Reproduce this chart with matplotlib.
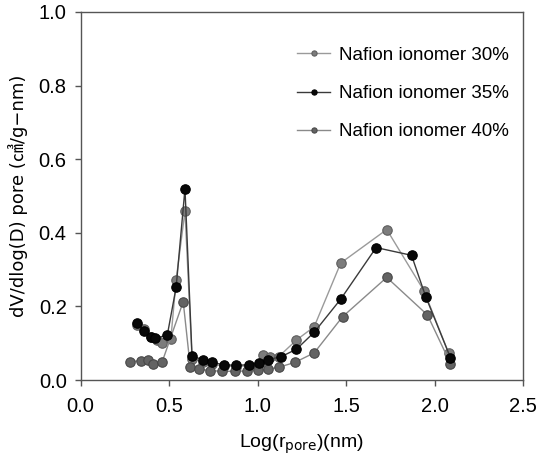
import matplotlib
matplotlib.use("Agg")
import matplotlib.pyplot as plt

# Data (log pore radius vs dV/dlog(D))
x30 = [0.32, 0.36, 0.40, 0.43, 0.46, 0.51, 0.54, 0.59, 0.63, 0.69, 0.74, 0.81, 0.88, 0.95, 1.01, 1.03, 1.07, 1.12, 1.22, 1.32, 1.47, 1.73, 1.94, 2.08]
y30 = [0.150, 0.140, 0.118, 0.108, 0.100, 0.111, 0.272, 0.459, 0.058, 0.050, 0.043, 0.038, 0.037, 0.039, 0.045, 0.068, 0.062, 0.064, 0.109, 0.145, 0.318, 0.409, 0.243, 0.073]

x35 = [0.32, 0.36, 0.40, 0.42, 0.49, 0.54, 0.59, 0.63, 0.69, 0.74, 0.81, 0.88, 0.95, 1.01, 1.06, 1.13, 1.22, 1.32, 1.47, 1.67, 1.87, 1.95, 2.09]
y35 = [0.154, 0.134, 0.118, 0.114, 0.122, 0.252, 0.520, 0.065, 0.056, 0.048, 0.042, 0.040, 0.042, 0.047, 0.056, 0.063, 0.084, 0.130, 0.220, 0.360, 0.339, 0.227, 0.061]

x40 = [0.28, 0.34, 0.38, 0.41, 0.46, 0.58, 0.62, 0.67, 0.73, 0.80, 0.87, 0.94, 1.00, 1.06, 1.12, 1.21, 1.32, 1.48, 1.73, 1.96, 2.09]
y40 = [0.050, 0.053, 0.056, 0.044, 0.048, 0.213, 0.035, 0.030, 0.026, 0.024, 0.024, 0.025, 0.027, 0.030, 0.035, 0.048, 0.074, 0.172, 0.279, 0.177, 0.045]

labels = ["Nafion ionomer 30%", "Nafion ionomer 35%", "Nafion ionomer 40%"]
xticks = [0.0, 0.5, 1.0, 1.5, 2.0, 2.5]
yticks = [0.0, 0.2, 0.4, 0.6, 0.8, 1.0]

plt.rcParams['font.family'] = ['Liberation Sans', 'DejaVu Sans']

fig = plt.figure(figsize=(5.37, 4.58), dpi=100)
ax = fig.add_axes([0.150, 0.170, 0.824, 0.804])

ms = 6.8
l30, = ax.plot(x30, y30, '-o', color='#9a9a9a', lw=1.0, ms=ms,
               mfc='#7c7c7c', mec='#5e5e5e', mew=0.8, label=labels[0], zorder=2)
l40, = ax.plot(x40, y40, '-o', color='#8a8a8a', lw=1.0, ms=ms,
               mfc='#636363', mec='#484848', mew=0.8, label=labels[2], zorder=2)
l35, = ax.plot(x35, y35, '-o', color='#3a3a3a', lw=1.0, ms=ms,
               mfc='#080808', mec='#000000', mew=0.8, label=labels[1], zorder=3)

ax.set_xlim(0, 2.5)
ax.set_ylim(0, 1.0)
ax.set_xticks(xticks)
ax.set_yticks(yticks)
ax.set_xticklabels([f"{v:.1f}" for v in xticks])
ax.set_yticklabels([f"{v:.1f}" for v in yticks])
ax.tick_params(direction='out', length=4, width=1, color='#555555',
               labelsize=14.5)
ax.tick_params(axis='x', pad=8)
ax.tick_params(axis='y', pad=6)
for s in ax.spines.values():
    s.set_color('#555555')
    s.set_linewidth(1.0)

ax.set_xlabel(r"Log(r$_{\mathrm{pore}}$)(nm)", fontsize=14, labelpad=12)
ax.set_ylabel("dV/dlog(D) pore (㎤/g\u2212nm)", fontsize=13,
              family=['DejaVu Sans', 'Noto Sans CJK KR'], labelpad=8)

leg = fig.legend([l30, l35, l40], labels, loc='upper left',
                 bbox_to_anchor=(0.536, 0.918), frameon=False,
                 fontsize=13.5, handlelength=1.75, handletextpad=0.5,
                 labelspacing=1.12, markerscale=0.55, borderpad=0)

fig.savefig("out.png", dpi=100)
